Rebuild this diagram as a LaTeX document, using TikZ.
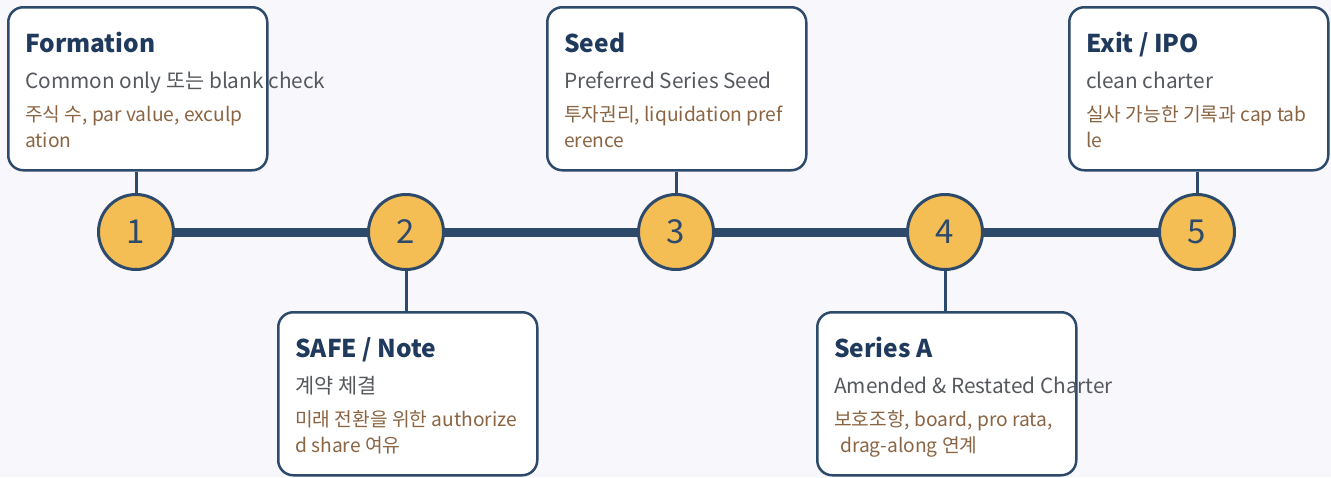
\documentclass[tikz,border=0pt]{standalone}
\usepackage{fontspec}
\setmainfont{Noto Sans CJK KR}
\definecolor{edge}{HTML}{2E4A6B}
\definecolor{gold}{HTML}{F5BE55}
\definecolor{bgc}{HTML}{F7F7FC}
\definecolor{ttl}{HTML}{1F3A5C}
\definecolor{subc}{HTML}{55595E}
\definecolor{det}{HTML}{8B6543}
\tikzset{
  card/.style={draw=edge, line width=2.5pt, fill=white, rounded corners=15pt, minimum width=259pt, minimum height=163pt, inner sep=0pt, anchor=north west},
  stepcirc/.style={circle, draw=edge, line width=3pt, fill=gold, minimum size=75pt, inner sep=0pt, text=edge, font=\fontsize{33}{33}\selectfont},
  ttltext/.style={anchor=base west, inner sep=0pt, text=ttl, font=\fontsize{24.5}{25}\selectfont\bfseries},
  subtext/.style={anchor=base west, inner sep=0pt, text=subc, font=\fontsize{20.8}{21}\selectfont},
  dettext/.style={anchor=base west, inner sep=0pt, text=det, font=\fontsize{19.2}{19}\selectfont},
  timeline/.style={draw=edge, line width=9pt},
  link/.style={draw=edge, line width=3pt}
}
\begin{document}
\begin{tikzpicture}[x=1pt, y=-1pt]
\fill[bgc] (0,0) rectangle (1331,477);
\useasboundingbox (0,0) rectangle (1331,477);
% cards
\node[card] (c1) at (7,6) {};
\node[card] (c2) at (277,311) {};
\node[card] (c3) at (546,6) {};
\node[card] (c4) at (816,311) {};
\node[card] (c5) at (1068,6) {};
% circles positions
\coordinate (k1) at (136,232);
\coordinate (k2) at (406,232);
\coordinate (k3) at (676,232);
\coordinate (k4) at (945,232);
\coordinate (k5) at (1197,232);
\draw[timeline] (k1) -- (k5);
% connectors
\draw[link] (k1 |- c1.south) -- (k1);
\draw[link] (k2) -- (k2 |- c2.north);
\draw[link] (k3 |- c3.south) -- (k3);
\draw[link] (k4) -- (k4 |- c4.north);
\draw[link] (k5 |- c5.south) -- (k5);
% circles
\node[stepcirc] (n1) at (k1) {1};
\node[stepcirc] (n2) at (k2) {2};
\node[stepcirc] (n3) at (k3) {3};
\node[stepcirc] (n4) at (k4) {4};
\node[stepcirc] (n5) at (k5) {5};
% texts card 1
\node[ttltext] (t1) at (25,52) {Formation};
\node[subtext] (s1) at (25,88) {Common only 또는 blank check};
\node[dettext] (d1a) at (25,121) {주식 수, par value, exculp};
\node[dettext] (d1b) at (25,147) {ation};
% card 2
\node[ttltext] (t2) at (295,357) {SAFE / Note};
\node[subtext] (s2) at (295,393) {계약 체결};
\node[dettext] (d2a) at (295,426) {미래 전환을 위한 authorize};
\node[dettext] (d2b) at (295,452) {d share 여유};
% card 3
\node[ttltext] (t3) at (564,52) {Seed};
\node[subtext] (s3) at (564,88) {Preferred Series Seed};
\node[dettext] (d3a) at (564,121) {투자권리, liquidation pref};
\node[dettext] (d3b) at (564,147) {erence};
% card 4
\node[ttltext] (t4) at (834,357) {Series A};
\node[subtext] (s4) at (834,393) {Amended \& Restated Charter};
\node[dettext] (d4a) at (834,426) {보호조항, board, pro rata,};
\node[dettext] (d4b) at (840,452) {drag-along 연계};
% card 5
\node[ttltext] (t5) at (1086,52) {Exit / IPO};
\node[subtext] (s5) at (1086,88) {clean charter};
\node[dettext] (d5a) at (1086,121) {실사 가능한 기록과 cap tab};
\node[dettext] (d5b) at (1086,147) {le};
\end{tikzpicture}
\end{document}
